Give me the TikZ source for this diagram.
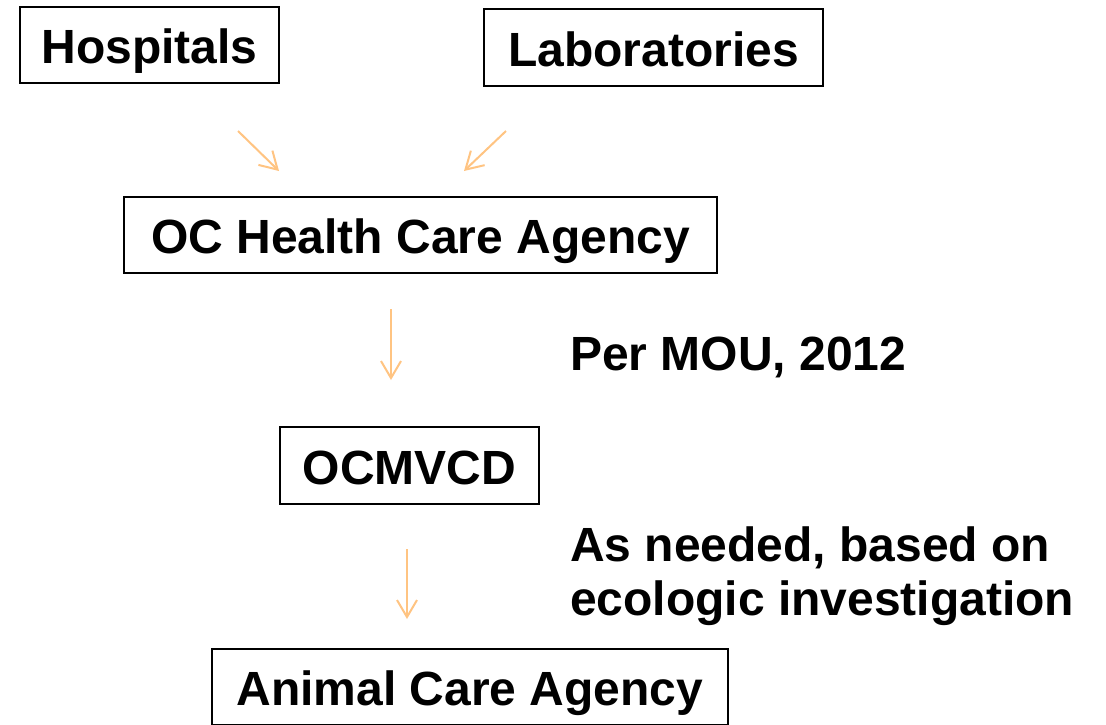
\documentclass[tikz,border=0pt]{standalone}
\usepackage{fontspec}
\setmainfont{Liberation Sans}
\usetikzlibrary{arrows.meta}
\definecolor{arrowc}{RGB}{255,196,130}
\begin{document}
\begin{tikzpicture}[x=1pt,y=-1pt,
  bx/.style={draw, line width=1.5pt, inner sep=0pt, text height=48pt, text depth=10.2pt,
    font=\fontsize{48}{55}\selectfont\bfseries},
  lbl/.style={inner sep=0pt, align=left,
    font=\fontsize{48}{54}\selectfont\bfseries},
  flow/.style={draw=arrowc, line width=2pt,
    -{Straight Barb[length=17pt,width=20pt,line width=2pt]}}]
\useasboundingbox (0,0) rectangle (1106,724);
\fill[white] (0,0) rectangle (1106,724);
% boxes
\node[bx, minimum width=259pt, minimum height=76pt] (hosp) at (149.5,45) {Hospitals};
\node[bx, minimum width=339pt, minimum height=77pt] (lab) at (653.5,47.5) {Laboratories};
\node[bx, minimum width=593pt, minimum height=76pt] (oc) at (420.5,235) {OC Health Care Agency};
\node[bx, minimum width=259pt, minimum height=77pt] (ocm) at (409.5,465.5) {OCMVCD};
\node[bx, minimum width=516pt, minimum height=76pt] (aca) at (470,687) {Animal Care Agency};
% labels
\node[lbl, anchor=base west] (mou) at (570,370) {Per MOU, 2012};
\node[lbl, anchor=base west] (need) at (570,615) {As needed, based on\\ecologic investigation};
% arrow end points
\coordinate (h1) at (238,131);
\coordinate (h2) at (279,171);
\coordinate (l1) at (506,131);
\coordinate (l2) at (464,171);
\coordinate (o1) at (391,309);
\coordinate (o2) at (391,380);
\coordinate (m1) at (407,549);
\coordinate (m2) at (407,619);
\draw[flow] (h1) -- (h2);
\draw[flow] (l1) -- (l2);
\draw[flow] (o1) -- (o2);
\draw[flow] (m1) -- (m2);
\end{tikzpicture}
\end{document}
